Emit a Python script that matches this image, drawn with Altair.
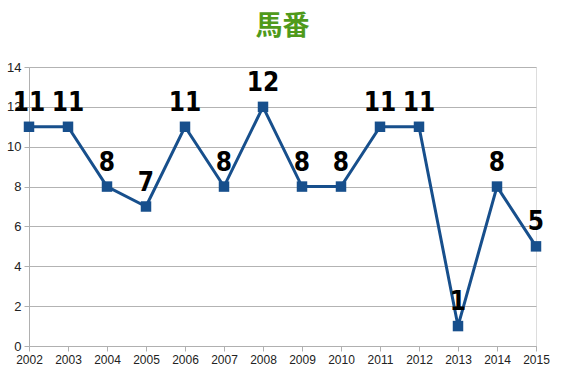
import altair as alt
import pandas as pd

years = [2002, 2003, 2004, 2005, 2006, 2007, 2008, 2009, 2010, 2011, 2012, 2013, 2014, 2015]
values = [11, 11, 8, 7, 11, 8, 12, 8, 8, 11, 11, 1, 8, 5]

df = pd.DataFrame({"year": years, "value": values})

x = alt.X("year:Q", scale=alt.Scale(domain=[2002, 2015], nice=False, zero=False),
          axis=alt.Axis(values=years, format="d", title=None, grid=False,
                        labelFont="Liberation Sans", labelFontSize=12, labelColor="#222",
                        domainColor="#b0b0b0", tickColor="#b0b0b0", tickSize=5,
                        labelPadding=3, labelFlush=False))
y = alt.Y("value:Q", scale=alt.Scale(domain=[0, 14], nice=False),
          axis=alt.Axis(values=list(range(0, 15, 2)), title=None, grid=True,
                        gridColor="#b3b3b3", labelFont="Liberation Sans", labelFontSize=13,
                        labelColor="#222", domainColor="#b0b0b0", tickColor="#b0b0b0",
                        tickSize=5, labelPadding=3))

base = alt.Chart(df).encode(x=x, y=y)

line = base.mark_line(color="#174f8c", strokeWidth=3)
pts = base.mark_square(color="#174f8c", size=110, opacity=1)
labels = base.mark_text(dy=-16, baseline="alphabetic", font="DejaVu Sans Condensed",
                        fontWeight="bold", fontSize=26, color="black").encode(text="value:Q")

chart = (line + pts + labels).properties(
    width=507, height=279,
    title=alt.TitleParams("馬番", font="Noto Sans CJK JP", fontSize=27, fontWeight="bold",
                          color="#4f9a1b", anchor="middle", offset=20),
    autosize=alt.AutoSizeParams(type="none"),
    padding={"left": 29, "top": 67, "right": 31, "bottom": 32},
).configure_view(stroke="#b0b0b0").configure(background="white")

chart.save("out.html", embed_options={"renderer": "svg", "actions": False})
